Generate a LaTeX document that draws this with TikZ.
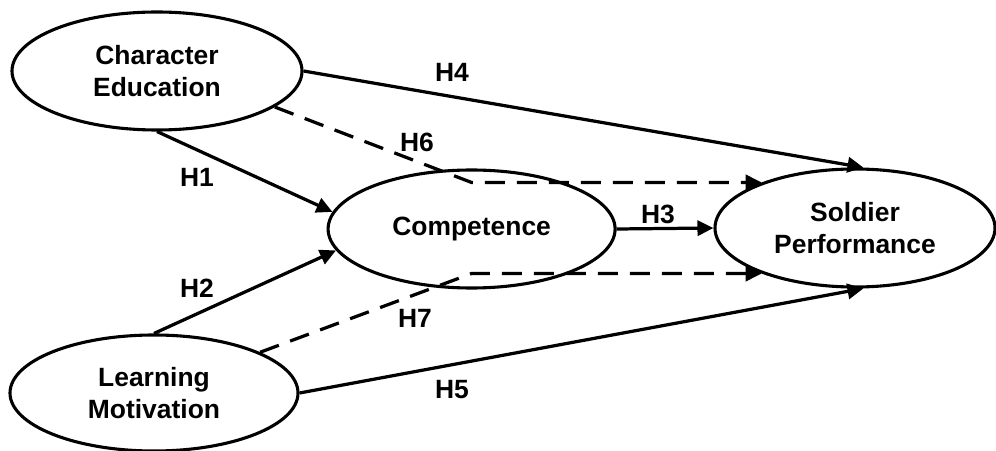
\documentclass[tikz,border=0pt]{standalone}
\usepackage{fontspec}
\setmainfont{Liberation Sans}
\usetikzlibrary{positioning,arrows.meta,shapes.geometric}

\begin{document}
\begin{tikzpicture}[
    >={Triangle[length=0.4cm,width=0.38cm]},
    font={\fontsize{18.8}{22.8}\selectfont\bfseries},
    construct/.style={ellipse,draw,line width=2.2pt,inner sep=0pt,align=center,minimum height=2.95cm},
    link/.style={->,line width=2.3pt},
    linkdash/.style={link,dash pattern=on 0.5cm off 0.3cm},
    hyp/.style={inner sep=0pt},
]

    \useasboundingbox (0,0) rectangle (24.9,11.25);

    \node[construct,minimum width=7.25cm] at (3.925,9.475) (chared) {Character\\Education};
    \node[construct,minimum width=7.2cm,minimum height=2.9cm] at (3.85,1.425) (learnmot) {Learning\\Motivation};
    \node[construct,minimum width=7.175cm] at (11.79,5.525) (compet) {Competence};
    \node[construct,minimum width=7.0cm] at (21.375,5.55) (soldperf) {Soldier\\Performance};

    \node[hyp] at (4.925,6.825) (h1) {H1};
    \node[hyp] at (4.925,4.05) (h2) {H2};
    \node[hyp] at (16.45,5.9) (h3) {H3};
    \node[hyp] at (11.3,9.45) (h4) {H4};
    \node[hyp] at (11.3,1.5) (h5) {H5};
    \node[hyp] at (10.425,7.7) (h6) {H6};
    \node[hyp] at (10.375,3.3) (h7) {H7};

    \draw[link](chared.south) to (compet.173);
    \draw[link](learnmot.north) to (compet.189);
    \draw[link](compet.east) to (soldperf.west);
    \draw[link](chared.east) to (soldperf.82);
    \draw[link](learnmot.east) to (soldperf.-82);
    \draw[linkdash](chared.-17) -- (soldperf.154 -| compet) -- (soldperf.154);
    \draw[linkdash](learnmot.21) -- (soldperf.206 -| compet) -- (soldperf.206);

\end{tikzpicture}
\end{document}
